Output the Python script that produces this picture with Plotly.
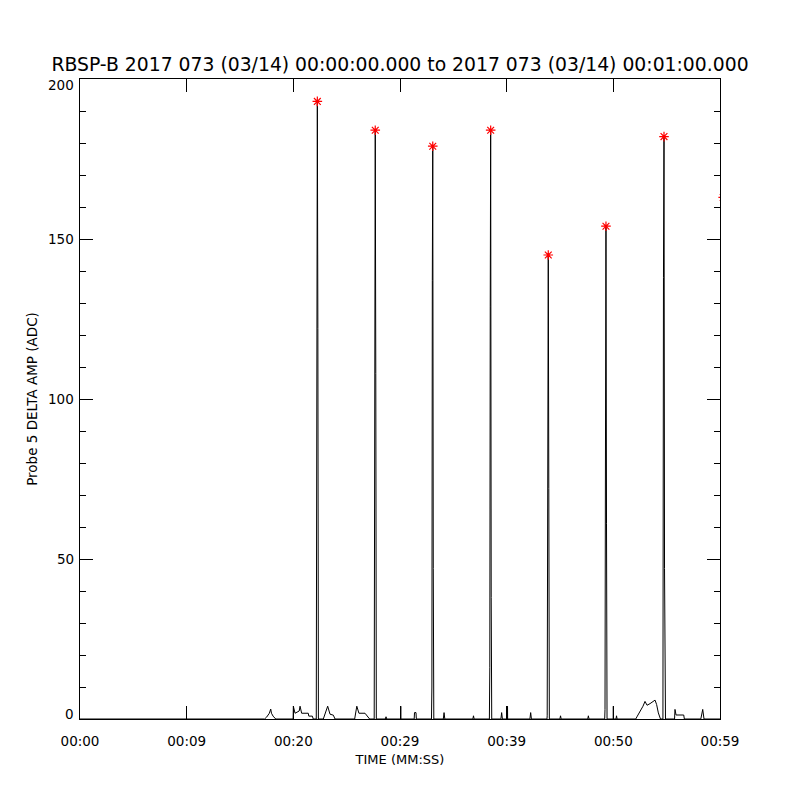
import plotly.graph_objects as go

# ---- data (time in seconds after 00:00:00, amplitude in ADC) ----
TIME_S = [
    0.00, 17.30, 17.50, 17.75, 17.88, 17.95, 18.10, 18.35,
    19.98, 20.00, 20.16, 20.55, 20.63, 20.78, 21.40, 21.45, 21.78, 21.87,
    22.15, 22.20, 22.25, 22.30, 22.35,
    22.81, 23.06, 23.22, 23.44, 23.75, 23.91,
    25.75, 25.95, 26.15, 26.72, 27.15,
    27.58, 27.63, 27.68, 27.73, 27.78,
    28.62, 28.69, 28.76,
    30.06, 30.07, 30.08,
    31.33, 31.36, 31.50, 31.53,
    32.95, 32.99, 33.03, 33.07, 33.12, 33.17,
    34.06, 34.13, 34.20,
    36.83, 36.89, 36.95,
    38.38, 38.42, 38.46, 38.50, 38.55, 38.60,
    39.46, 39.53, 39.60,
    40.07, 40.08, 40.09,
    42.18, 42.25, 42.32,
    43.78, 43.80, 43.85, 43.90, 43.95, 44.00,
    44.99, 45.05, 45.11,
    47.60, 47.66, 47.72,
    49.19, 49.22, 49.26, 49.31, 49.36, 49.41,
    49.99, 50.00, 50.01,
    50.25, 50.30, 50.35,
    52.10, 52.25, 52.50, 52.78, 52.97, 53.16, 53.44, 53.59, 53.91, 54.06, 54.22, 54.42,
    54.65, 54.70, 54.75, 54.80, 54.84, 54.89,
    55.74, 55.78, 55.88, 56.60, 56.66,
    58.20, 58.38, 58.50,
    60.00,
]
AMP_ADC = [
    0, 0, 0.6, 1.8, 3.1, 1.8, 0.9, 0,
    0, 4.0, 1.8, 2.5, 4.0, 1.8, 1.8, 0.9, 0.9, 0,
    0, 125, 193, 122, 0,
    0, 2.3, 4.0, 1.5, 1.2, 0,
    0, 4.0, 1.8, 1.8, 0,
    0, 128, 184, 108, 0,
    0, 0.7, 0,
    0, 4.0, 0,
    0, 2.0, 2.0, 0,
    0, 10, 137, 179, 47, 0,
    0, 2.0, 0,
    0, 1.0, 0,
    0, 16, 129, 184, 38, 0,
    0, 2.0, 0,
    0, 4.0, 0,
    0, 2.0, 0,
    0, 1.0, 73, 145, 72, 0,
    0, 1.0, 0,
    0, 1.0, 0,
    0, 3.0, 80, 154, 61, 0,
    0, 4.0, 0,
    0, 1.0, 0,
    0, 0.9, 2.3, 4.0, 5.5, 4.3, 4.8, 5.1, 5.9, 4.5, 1.9, 0,
    0, 138, 182, 47, 11, 0,
    0, 3.0, 1.25, 1.25, 0,
    0, 3.0, 0,
    0,
]

PEAK_T = [22.25, 27.68, 33.07, 38.50, 43.90, 49.31, 54.75, 60.30]
PEAK_V = [193, 184, 179, 184, 145, 154, 182, 163]

X_TICKS = [0, 10, 20, 30, 40, 50, 60]
X_TICK_TEXT = ["00:00", "00:09", "00:20", "00:29", "00:39", "00:50", "00:59"]
Y_TICKS = [0, 50, 100, 150, 200]
Y_TICK_TEXT = ["0", "50", "100", "150", "200"]

TITLE = "RBSP-B 2017 073 (03/14) 00:00:00.000 to 2017 073 (03/14) 00:01:00.000"

FONT = "DejaVu Sans"

fig = go.Figure()
fig.add_trace(go.Scatter(
    x=TIME_S, y=AMP_ADC, mode="lines",
    line=dict(color="black", width=1),
    showlegend=False, hoverinfo="skip",
))
fig.add_trace(go.Scatter(
    x=PEAK_T, y=PEAK_V, mode="markers",
    marker=dict(symbol="asterisk-open", size=8, color="red",
                line=dict(color="red", width=1.2)),
    showlegend=False, cliponaxis=True,
))

axis_common = dict(
    showline=True, linecolor="black", linewidth=1, mirror="ticks",
    ticks="inside", tickcolor="black", tickwidth=1,
    showgrid=False, zeroline=False,
    tickfont=dict(family=FONT, size=13.5, color="black"),
)

fig.update_xaxes(
    range=[0, 60], tickmode="array", tickvals=X_TICKS, ticktext=X_TICK_TEXT,
    ticklen=13, ticklabelstandoff=10,
    title=dict(text="TIME (MM:SS)", font=dict(family=FONT, size=13, color="black"), standoff=6),
    **axis_common,
)
fig.update_yaxes(
    range=[0, 200], tickmode="array", tickvals=Y_TICKS, showticklabels=False,
    ticklen=13,
    minor=dict(dtick=10, ticklen=6, ticks="inside", tickcolor="black", tickwidth=1, showgrid=False),
    title=dict(text="Probe 5 DELTA AMP (ADC)", font=dict(family=FONT, size=13.5, color="black"), standoff=38),
    **axis_common,
)

# y tick labels as annotations: IDL keeps the end labels inside the axis span
n = len(Y_TICKS)
for i, (v, t) in enumerate(zip(Y_TICKS, Y_TICK_TEXT)):
    shift = 5 if i == 0 else (-6 if i == n - 1 else 0)
    fig.add_annotation(
        x=0, xref="paper", y=v, yref="y", text=t, showarrow=False,
        xanchor="right", yanchor="middle", xshift=-4, yshift=shift,
        font=dict(family=FONT, size=13.5, color="black"),
    )

# the page body has an 8 px margin, so the figure is shifted by 8 px
fig.update_layout(
    width=800, height=800,
    margin=dict(l=72, r=88, t=71, b=89),
    paper_bgcolor="white", plot_bgcolor="white",
    title=dict(text=TITLE, x=(400 - 8) / 800, xanchor="center", y=1 - 56 / 800, yanchor="middle",
               yref="container", xref="container",
               font=dict(family=FONT, size=18.8, color="black")),
    font=dict(family=FONT, color="black"),
)

fig.write_html("out.html")
